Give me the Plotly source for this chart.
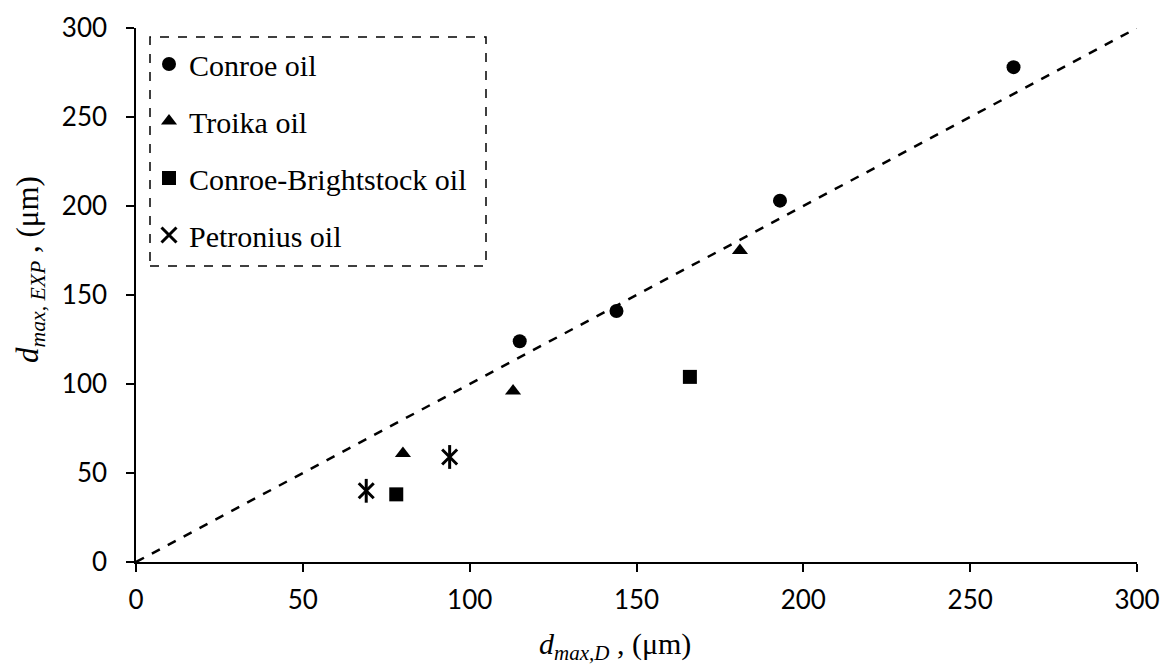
import plotly.graph_objects as go

conroe_x = [115, 144, 193, 263]
conroe_y = [124, 141, 203, 278]
troika_x = [80, 113, 181]
troika_y = [61, 96, 175]
cb_x = [78, 166]
cb_y = [38, 104]
petro_x = [69, 94]
petro_y = [40, 59]

ticks = [0, 50, 100, 150, 200, 250, 300]

serif = "Liberation Serif, Times New Roman, serif"
sans = "Lato, Carlito, Liberation Sans, sans-serif"

fig = go.Figure()

fig.add_trace(go.Scatter(x=[0, 300], y=[0, 300], mode="lines",
                         line=dict(color="black", width=2.5, dash="dash"),
                         showlegend=False, hoverinfo="skip"))

fig.add_trace(go.Scatter(x=conroe_x, y=conroe_y, mode="markers", name="Conroe oil",
                         legendgroup="a",
                         marker=dict(symbol="circle", size=14, color="black")))
fig.add_trace(go.Scatter(x=troika_x, y=troika_y, mode="markers", name="Troika oil",
                         legendgroup="b",
                         marker=dict(symbol="triangle-up", size=14, color="black")))
fig.add_trace(go.Scatter(x=cb_x, y=cb_y, mode="markers", name="Conroe-Brightstock oil",
                         legendgroup="c",
                         marker=dict(symbol="square", size=14, color="black")))
fig.add_trace(go.Scatter(x=petro_x, y=petro_y, mode="markers", name="Petronius oil",
                         legendgroup="d",
                         marker=dict(symbol="x-thin-open", size=15, color="black",
                                     line=dict(color="black", width=3))))
fig.add_trace(go.Scatter(x=petro_x, y=petro_y, mode="markers", name="Petronius oil",
                         legendgroup="d", showlegend=False, hoverinfo="skip",
                         marker=dict(symbol="line-ns-open", size=17, color="black",
                                     line=dict(color="black", width=3))))

x0 = 14 / 1001
x1 = 350 / 1001
y0 = (562 - 266) / 534
y1 = (562 - 37) / 534
fig.add_shape(type="rect", xref="paper", yref="paper", x0=x0, x1=x1, y0=y0, y1=y1,
              line=dict(color="black", width=1.5, dash="dash"), fillcolor="rgba(0,0,0,0)")

fig.add_annotation(text="<i>d</i><sub><i>max,D</i></sub> , (μm)", xref="paper", yref="paper",
                   x=(615 - 136) / 1001, y=(562 - 646) / 534, showarrow=False,
                   xanchor="center", yanchor="middle",
                   font=dict(family=serif, size=30, color="black"))
fig.add_annotation(text="<i>d</i><sub><i>max, EXP</i></sub> , (μm)", xref="paper", yref="paper",
                   x=(30 - 136) / 1001, y=(562 - 270) / 534, showarrow=False, textangle=-90,
                   xanchor="center", yanchor="middle",
                   font=dict(family=serif, size=31, color="black"))

fig.update_layout(
    width=1167, height=666,
    margin=dict(l=136, r=30, t=28, b=104),
    paper_bgcolor="white", plot_bgcolor="white",
    showlegend=True,
    legend=dict(x=13 / 1001, y=(562 - 38) / 534, xanchor="left", yanchor="top",
                bgcolor="rgba(0,0,0,0)", borderwidth=0,
                font=dict(family=serif, size=30, color="black"),
                traceorder="grouped", tracegroupgap=15, itemwidth=30),
    xaxis=dict(range=[0, 300], tickvals=ticks, showgrid=False, zeroline=False,
               showline=True, linecolor="black", linewidth=1.5, automargin=False,
               ticks="outside", ticklen=8, tickcolor="black", tickwidth=1.5,
               ticklabelstandoff=6,
               tickfont=dict(family=sans, size=26, color="black")),
    yaxis=dict(range=[0, 300], tickvals=ticks, showgrid=False, zeroline=False,
               showline=True, linecolor="black", linewidth=1.5, automargin=False,
               ticks="outside", ticklen=8, tickcolor="black", tickwidth=1.5,
               ticklabelstandoff=14,
               tickfont=dict(family=sans, size=26, color="black")),
)

fig.write_html("out.html")
